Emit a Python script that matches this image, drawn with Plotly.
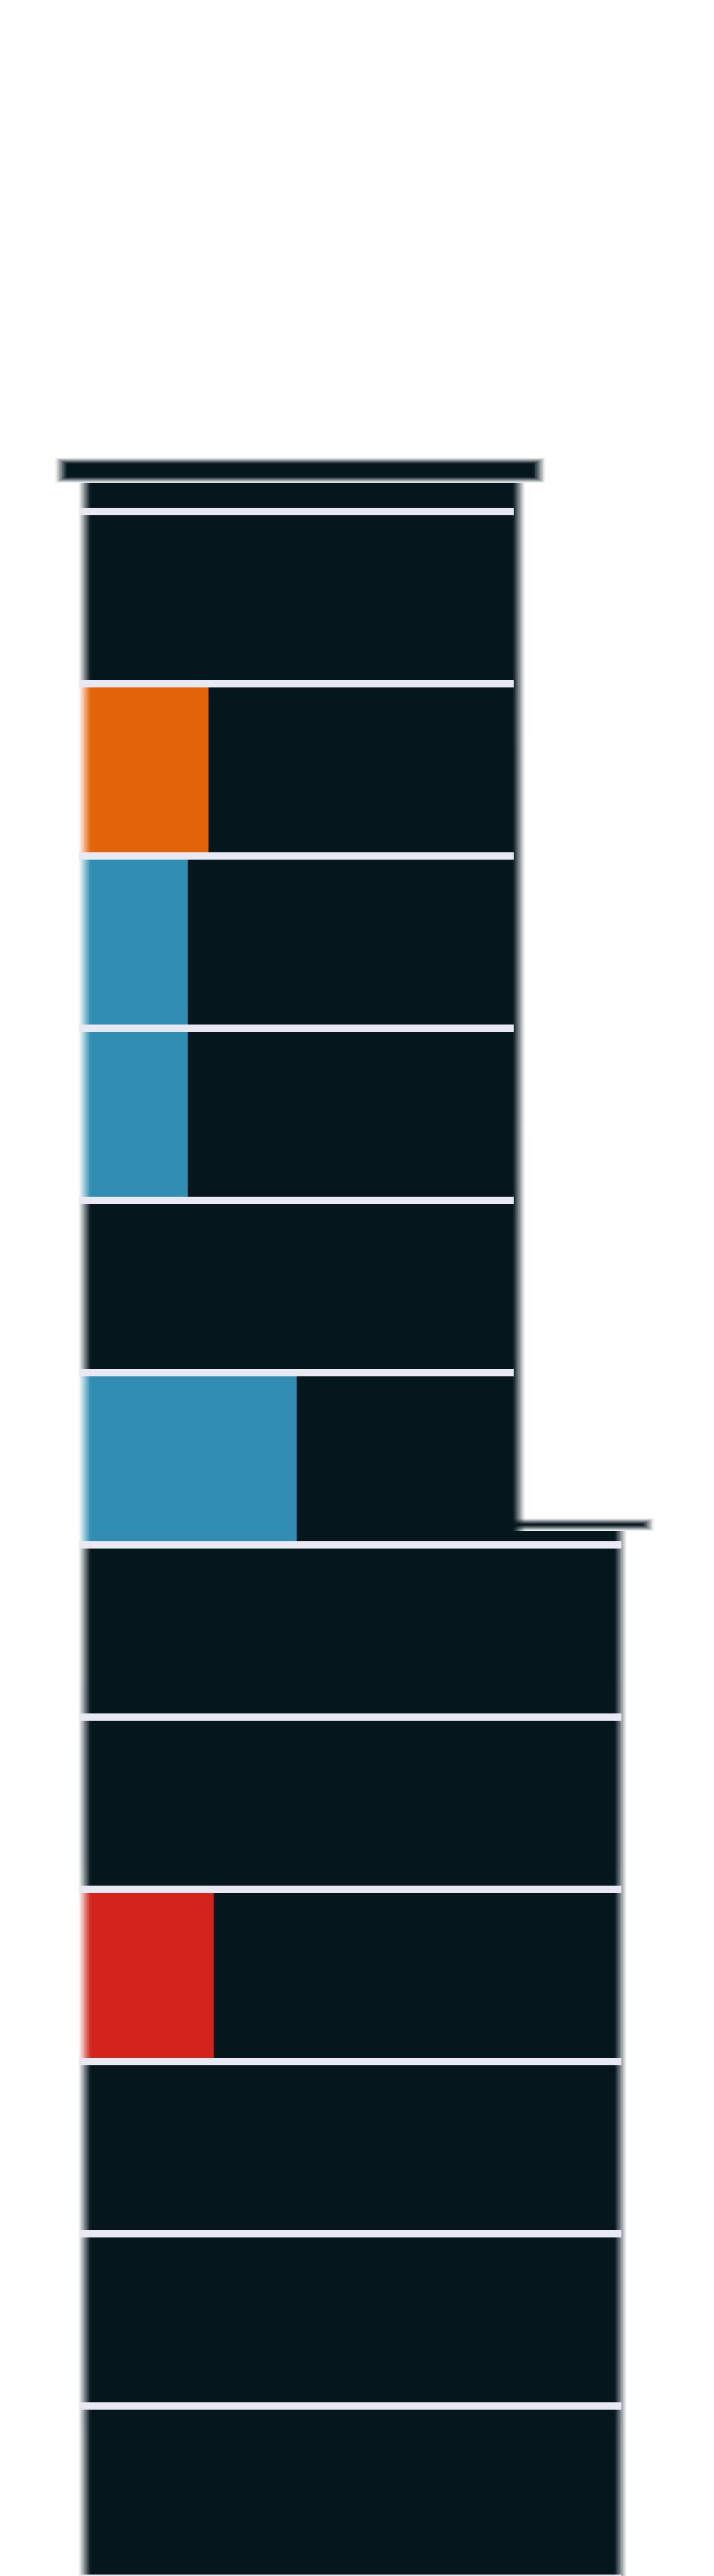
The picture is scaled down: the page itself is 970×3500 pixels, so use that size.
import plotly.graph_objects as go

# ---------------- data ----------------
floors = [1, 2, 3, 4, 5, 6, 7, 8, 9, 10, 11, 12]
floor_width = [100, 100, 100, 100, 100, 100, 123.4, 123.4, 123.4, 123.4, 123.4, 123.4]
highlight = [0, 28.5, 23.7, 23.7, 0, 48.8, 0, 0, 29.7, 0, 0, 0]
highlight_color = ["#E2640A", "#E2640A", "#318EB2", "#318EB2", "#318EB2", "#318EB2",
                   "#D2241C", "#D2241C", "#D2241C", "#D2241C", "#D2241C", "#D2241C"]

# ---------------- styling ----------------
DARK = "#05161D"
SEP_COLOR = "#E8E9F2"
PX_X = 5.9                 # pixels per x unit
PX_Y = 234.0               # pixels per floor
PAGE_OFFSET = 8            # default page margin around the plot
SEP = 10 / PX_Y            # separator thickness (floor units)
SEP_LEFT = -1.36
SEP_RIGHT_INSET = [1.2] * 6 + [-0.2] * 6 + [-0.2]
BLUR_X = 16 / PX_X
BLUR_Y = 16 / PX_Y
NLAYERS = 7
CAP_LEFT, CAP_RIGHT = -5.42, 104.7
CAP_T = 34 / PX_Y
STUB_T = 34 / PX_Y
LEDGE_RIGHT = 129.7
LEDGE_T = 17 / PX_Y
LOWER_STUB_T = 14 / PX_Y

fig = go.Figure()


def hbar(y, x, base, width, color, opacity=1.0):
    fig.add_trace(go.Bar(orientation="h", y=y, x=x, base=base, width=width,
                         marker=dict(color=color, line=dict(width=0)),
                         opacity=opacity, hoverinfo="skip", showlegend=False))


def blurred(y, x0, x1, thick, color, left=True, right=True, vert=False):
    """Bars from x0 to x1 with soft (blurred-looking) edges."""
    n = NLAYERS
    cov = [1 - (k - 0.5) / n for k in range(1, n + 1)] + [0.0]
    alphas = [1 - (1 - cov[k]) / (1 - cov[k + 1]) for k in range(n)]
    hl = BLUR_X / 2 if left else 0
    hr = BLUR_X / 2 if right else 0
    hv = BLUR_Y / 2 if vert else 0
    for k in range(n, 0, -1):
        e = k / n
        b = [a + hl - 2 * hl * e for a in x0]
        ends = [c - hr + 2 * hr * e for c in x1]
        hbar(y, [en - bb for en, bb in zip(ends, b)], b,
             [t - 2 * hv + 2 * hv * e for t in thick], color, alphas[k - 1])
    b = [a + hl for a in x0]
    ends = [c - hr for c in x1]
    hbar(y, [en - bb for en, bb in zip(ends, b)], b,
         [t - 2 * hv for t in thick], color, 1.0)


# building bodies: plain floors (soft on both sides)
plain = [i for i in range(len(floors)) if highlight[i] == 0]
lit = [i for i in range(len(floors)) if highlight[i] > 0]
blurred([floors[i] for i in plain], [0] * len(plain), [floor_width[i] for i in plain],
        [1.0] * len(plain), DARK)
blurred([floors[i] for i in lit], [highlight[i] for i in lit], [floor_width[i] for i in lit],
        [1.0] * len(lit), DARK, left=False)
# highlighted parts (soft on the outer left edge only)
for i in lit:
    blurred([floors[i]], [0], [highlight[i]], [1.0], highlight_color[i], right=False)

# roof stub above the first floor
stub_top = floors[0] - 0.5 - SEP / 2 - STUB_T
blurred([(stub_top + floors[0] - 0.5) / 2], [0], [floor_width[0]],
        [floors[0] - 0.5 - stub_top], DARK)

# where the building widens: lower stub and ledge
step_i = next(i for i in range(1, len(floors)) if floor_width[i] != floor_width[i - 1])
step_edge = floors[step_i] - 0.5 - SEP / 2
inner = floor_width[step_i - 1] - BLUR_X / 2
blurred([step_edge - LOWER_STUB_T / 2 + 0.01], [inner], [floor_width[step_i]],
        [LOWER_STUB_T + 0.02], DARK, left=False)

# separators (above each floor, plus below the last)
sep_y = [f - 0.5 for f in floors] + [floors[-1] + 0.5]
sep_w = floor_width + [floor_width[-1]]
sep_end = [w - ins for w, ins in zip(sep_w, SEP_RIGHT_INSET)]
hbar(sep_y, [e - SEP_LEFT for e in sep_end], [SEP_LEFT] * len(sep_y), SEP, SEP_COLOR)

# ledge and roof cap
blurred([step_edge - LOWER_STUB_T - LEDGE_T / 2], [inner], [LEDGE_RIGHT], [LEDGE_T],
        DARK, left=False, vert=True)
blurred([stub_top - CAP_T / 2], [CAP_LEFT], [CAP_RIGHT], [CAP_T], DARK, vert=True)

fig.update_layout(
    width=970, height=3500,
    margin=dict(l=0, r=0, t=0, b=0),
    paper_bgcolor="white", plot_bgcolor="white",
    barmode="overlay", showlegend=False,
    xaxis=dict(range=[(PAGE_OFFSET - 115) / PX_X, (PAGE_OFFSET + 970 - 115) / PX_X],
               visible=False, fixedrange=True),
    yaxis=dict(range=[1 + (PAGE_OFFSET + 3500 - 812) / PX_Y, 1 + (PAGE_OFFSET - 812) / PX_Y],
               visible=False, fixedrange=True),
)

fig.write_html("out.html")
